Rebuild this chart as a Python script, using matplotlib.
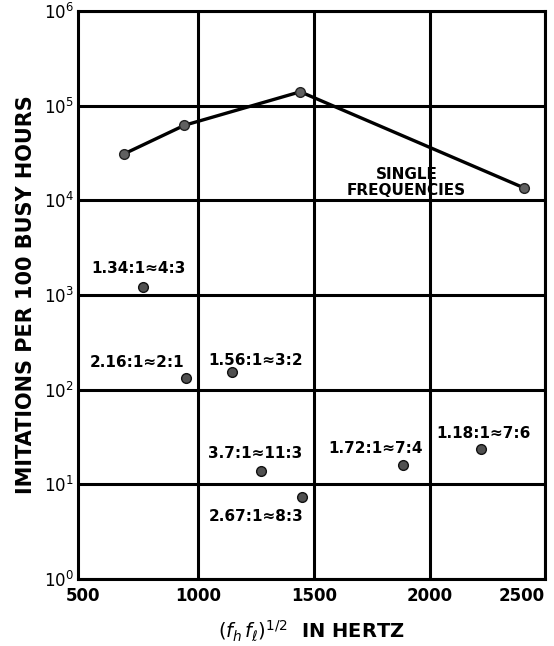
import matplotlib
matplotlib.use('Agg')
import matplotlib.pyplot as plt

# single frequencies (connected line)
single_x = [680, 940, 1441, 2409]
single_y = [3.1e4, 6.2e4, 1.4e5, 1.35e4]

# frequency pairs
pair_x = [762, 948, 1147, 1272, 1450, 1886, 2224]
pair_y = [1.2e3, 131, 152, 13.8, 7.3, 16, 23.8]
pair_labels = ['1.34:1≈4:3', '2.16:1≈2:1', '1.56:1≈3:2', '3.7:1≈11:3',
               '2.67:1≈8:3', '1.72:1≈7:4', '1.18:1≈7:6']
# label offsets from the dot, in pixels
label_dx = [-5, -49, 23, -6, -46, -28, 2]
label_dy = [19, 16, 12, 17, -19, 16, 15]

x_ticks = [500, 1000, 1500, 2000, 2500]
y_ticks = [1, 10, 100, 1e3, 1e4, 1e5, 1e6]

plt.rcParams['font.family'] = ['DejaVu Sans']
fig = plt.figure(figsize=(5.54, 6.46), dpi=100)
ax = fig.add_axes([0.141, 0.104, 0.843, 0.879])

ax.set_yscale('log')
ax.set_xlim(480, 2500)
ax.set_ylim(1, 1e6)
ax.set_xticks(x_ticks)
ax.set_xticklabels([str(v) for v in x_ticks], fontsize=12, fontweight='bold')
# end labels sit inside the frame, as in the original drawing
xl = ax.get_xticklabels()
xl[-1].set_ha('right')
ax.set_yticks(y_ticks)
ax.minorticks_off()
ax.tick_params(axis='both', length=0)
ax.tick_params(axis='y', labelsize=12, pad=3)
ax.tick_params(axis='x', pad=6)
ax.grid(True, color='black', linewidth=2.2)
ax.xaxis.get_gridlines()[0].set_visible(False)
for sp in ax.spines.values():
    sp.set_linewidth(2.2)

ax.plot(single_x, single_y, color='black', linewidth=2.4, zorder=3)
ax.plot(single_x, single_y, 'o', color='#606060', markeredgecolor='#222222',
        markersize=7, markeredgewidth=1, zorder=4)
ax.plot(pair_x, pair_y, 'o', color='#505050', markeredgecolor='#111111',
        markersize=7, markeredgewidth=1, linestyle='none', zorder=4)

for x, y, lab, dx, dy in zip(pair_x, pair_y, pair_labels, label_dx, label_dy):
    ax.annotate(lab, (x, y), xytext=(dx, dy), textcoords='offset pixels',
                ha='center', va='center', fontsize=11, fontweight='bold',
                zorder=5)

ax.text(1900, 1.55e4, 'SINGLE\nFREQUENCIES', ha='center', va='center',
        fontsize=11, fontweight='bold', linespacing=1.1, zorder=5)

ax.set_ylabel('IMITATIONS PER 100 BUSY HOURS', fontsize=15, fontweight='bold',
              labelpad=6)
ax.set_xlabel(r'$(f_h\,f_\ell)^{1/2}$  IN HERTZ', fontsize=14, fontweight='bold',
              labelpad=10)

fig.savefig('out.png', dpi=100)
